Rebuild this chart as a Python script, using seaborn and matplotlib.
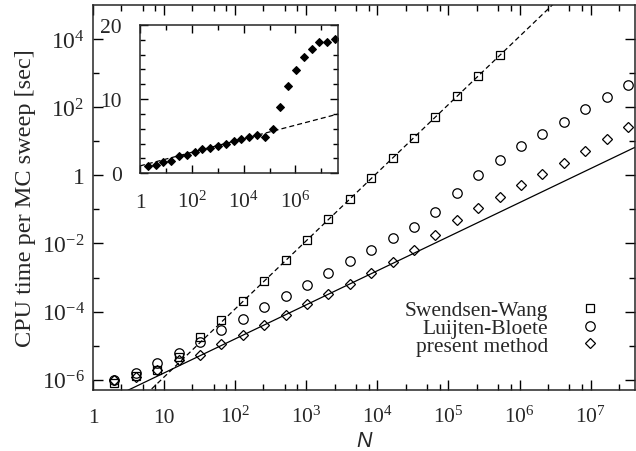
import numpy as np
import pandas as pd
import matplotlib
matplotlib.use("Agg")
import matplotlib.pyplot as plt
import seaborn as sns
from matplotlib.ticker import FixedLocator, FixedFormatter, NullFormatter

# ---------------- data ----------------
N_sw = [2, 4, 8, 16, 32, 64, 128, 256, 512, 1024, 2048, 4096, 8192, 16384,
        32768, 65536, 131072, 262144, 524288]
t_sw = [8.0e-7, 1.32e-6, 1.9e-6, 4.5e-6, 1.74e-5, 5.6e-5, 2.09e-4, 8.0e-4,
        3.24e-3, 1.28e-2, 5.1e-2, 0.207, 0.82, 3.17, 12.9, 51.6, 209, 822, 3310]

N_all = [2, 4, 8, 16, 32, 64, 128, 256, 512, 1024, 2048, 4096, 8192, 16384,
         32768, 65536, 131072, 262144, 524288, 1048576, 2097152, 4194304,
         8388608, 16777216, 33554432]
t_lb = [1.01e-6, 1.55e-6, 3.0e-6, 6.07e-6, 1.26e-5, 2.88e-5, 6.0e-5, 1.33e-4,
        2.85e-4, 5.98e-4, 1.36e-3, 2.96e-3, 6.49e-3, 1.40e-2, 3.11e-2,
        8.57e-2, 0.294, 1.03, 2.90, 7.23, 16.8, 37.8, 91.0, 202, 463]
t_pm = [9.66e-7, 1.22e-6, 1.89e-6, 3.78e-6, 5.41e-6, 1.11e-5, 2.11e-5,
        4.02e-5, 8.0e-5, 1.63e-4, 3.37e-4, 6.62e-4, 1.33e-3, 2.77e-3, 6.24e-3,
        1.75e-2, 4.82e-2, 0.112, 0.239, 0.522, 1.08, 2.26, 5.02, 11.6, 25.4]

# inset: filled diamonds
inset_val = [1.02, 1.16, 1.57, 1.66, 2.33, 2.51, 2.87, 3.23, 3.45, 3.68, 4.0,
             4.36, 4.63, 4.9, 5.17, 4.85, 6.02, 9.0, 11.8, 13.97, 15.7, 16.8,
             17.67, 17.67, 18.1]

# fitted curves (parameters)
sw_fit_logc, sw_fit_exp = -7.92, 2.0
pm_fit_logc, pm_fit_exp = -6.80, 1.0
inset_fit_a, inset_fit_b = 1.0, 0.915

labels = ["Swendsen-Wang", "Luijten-Bloete", "present method"]
x_major = [1, 10, 1e2, 1e3, 1e4, 1e5, 1e6, 1e7]
x_major_lbl = ["1", "10", r"$10^{2}$", r"$10^{3}$", r"$10^{4}$", r"$10^{5}$",
               r"$10^{6}$", r"$10^{7}$"]
y_major = [1e-6, 1e-4, 1e-2, 1, 1e2, 1e4]
y_major_lbl = [r"$10^{-6}$", r"$10^{-4}$", r"$10^{-2}$", "1", r"$10^{2}$",
               r"$10^{4}$"]
ix_major = [1, 1e2, 1e4, 1e6]
ix_major_lbl = ["1", r"$10^{2}$", r"$10^{4}$", r"$10^{6}$"]
iy_major = [0, 10, 20]
iy_major_lbl = ["0", "10", "20"]

XMIN, XMAX = 1, 4.2e7
YMIN, YMAX = 5e-7, 1e5

# ---------------- style ----------------
sns.set_style("ticks")
plt.rcParams["font.family"] = ["Liberation Serif", "DejaVu Serif"]
plt.rcParams["mathtext.fontset"] = "custom"
plt.rcParams["mathtext.rm"] = "Liberation Serif"
plt.rcParams["mathtext.it"] = "Liberation Serif:italic"
plt.rcParams["mathtext.default"] = "regular"
plt.rcParams["axes.linewidth"] = 1.1

fig = plt.figure(figsize=(6.36, 4.52), dpi=100)
ax = fig.add_axes([93 / 636, 1 - 391 / 452, 542 / 636, 385 / 452])

ax.set_xscale("log")
ax.set_yscale("log")

df_sw = pd.DataFrame({"N": N_sw, "t": t_sw})
df_lb = pd.DataFrame({"N": N_all, "t": t_lb})
df_pm = pd.DataFrame({"N": N_all, "t": t_pm})

# fit lines
Nf = np.logspace(0, 7.7, 300)
df_swfit = pd.DataFrame({"N": Nf, "t": 10 ** sw_fit_logc * Nf ** sw_fit_exp})
df_pmfit = pd.DataFrame({"N": Nf, "t": 10 ** pm_fit_logc * Nf ** pm_fit_exp})
sns.lineplot(data=df_swfit, x="N", y="t", ax=ax, color="black", lw=0.9,
             dashes=False, linestyle=(0, (4, 2.5)), estimator=None, sort=False)
sns.lineplot(data=df_pmfit, x="N", y="t", ax=ax, color="black", lw=0.9,
             estimator=None, sort=False)

mk = dict(linestyle="", markerfacecolor="none", markeredgecolor="black",
          markeredgewidth=0.9, estimator=None, color="black")
sns.lineplot(data=df_sw, x="N", y="t", ax=ax, marker="s", markersize=6.0,
             label=labels[0], **mk)
sns.lineplot(data=df_lb, x="N", y="t", ax=ax, marker="o", markersize=6.8,
             label=labels[1], **mk)
sns.lineplot(data=df_pm, x="N", y="t", ax=ax, marker="D", markersize=5.0,
             label=labels[2], **mk)

ax.set_xlim(XMIN, XMAX)
ax.set_ylim(YMIN, YMAX)

ax.xaxis.set_major_locator(FixedLocator(x_major))
ax.xaxis.set_major_formatter(FixedFormatter(x_major_lbl))
ax.xaxis.set_minor_locator(FixedLocator(
    [m * 10 ** k for k in range(0, 8) for m in (2.5, 5, 7.5)]))
ax.xaxis.set_minor_formatter(NullFormatter())
ax.yaxis.set_major_locator(FixedLocator(y_major))
ax.yaxis.set_major_formatter(FixedFormatter(y_major_lbl))
ax.yaxis.set_minor_locator(FixedLocator([1e-5, 1e-3, 1e-1, 10, 1e3]))
ax.yaxis.set_minor_formatter(NullFormatter())

ax.tick_params(which="both", direction="in", top=True, right=True,
               width=1.0, color="black")
ax.tick_params(which="major", length=7)
ax.tick_params(which="minor", length=4)
ax.tick_params(axis="x", which="major", labelsize=15.5, pad=23)
ax.tick_params(axis="y", which="major", labelsize=17, pad=6)
for lbl in ax.get_xticklabels():
    lbl.set_verticalalignment("baseline")

ax.set_xlabel("N", fontsize=15.5, family=["Liberation Sans", "DejaVu Sans"],
              style="italic", labelpad=2.5)
ax.set_ylabel("CPU time per MC sweep [sec]", fontsize=17.5, labelpad=4)

leg = ax.legend(loc="center right", bbox_to_anchor=(0.955, 0.161),
                frameon=False, markerfirst=False, fontsize=15.5,
                handlelength=1.9, handletextpad=1.0, labelspacing=-0.1,
                borderpad=0, borderaxespad=0)

# ---------------- inset ----------------
axi = fig.add_axes([140 / 636, 1 - 174.3 / 452, 197.5 / 636, 148.3 / 452])
axi.set_xscale("log")
df_in = pd.DataFrame({"N": N_all, "v": inset_val})
Ni = np.logspace(0, 7.7, 200)
df_infit = pd.DataFrame({"N": Ni, "v": inset_fit_a + inset_fit_b * np.log10(Ni)})
sns.lineplot(data=df_infit, x="N", y="v", ax=axi, color="black", lw=0.9,
             linestyle=(0, (4, 2.5)), estimator=None, sort=False)
sns.lineplot(data=df_in, x="N", y="v", ax=axi, marker="D", markersize=3.6,
             linestyle="", color="black", markerfacecolor="black",
             markeredgecolor="black", estimator=None)
axi.set_xlim(XMIN, XMAX)
axi.set_ylim(0, 20)
axi.set_xlabel("")
axi.set_ylabel("")
axi.xaxis.set_major_locator(FixedLocator(ix_major))
axi.xaxis.set_major_formatter(FixedFormatter(ix_major_lbl))
axi.xaxis.set_minor_locator(FixedLocator([10, 1e3, 1e5, 1e7]))
axi.xaxis.set_minor_formatter(NullFormatter())
axi.yaxis.set_major_locator(FixedLocator(iy_major))
axi.yaxis.set_major_formatter(FixedFormatter(iy_major_lbl))
axi.yaxis.set_minor_locator(FixedLocator(list(range(2, 20, 2))))
axi.yaxis.set_minor_formatter(NullFormatter())
axi.tick_params(which="both", direction="in", top=True, right=True,
                width=1.0, color="black")
axi.tick_params(which="major", length=6)
axi.tick_params(which="minor", length=3.5)
axi.tick_params(axis="x", which="major", labelsize=15.5, pad=24)
axi.tick_params(axis="y", which="major", labelsize=15.5, pad=13)
for lbl in axi.get_xticklabels():
    lbl.set_verticalalignment("baseline")
for sp in axi.spines.values():
    sp.set_linewidth(1.1)
if axi.get_legend() is not None:
    axi.get_legend().remove()

fig.savefig("out.png", dpi=100)
